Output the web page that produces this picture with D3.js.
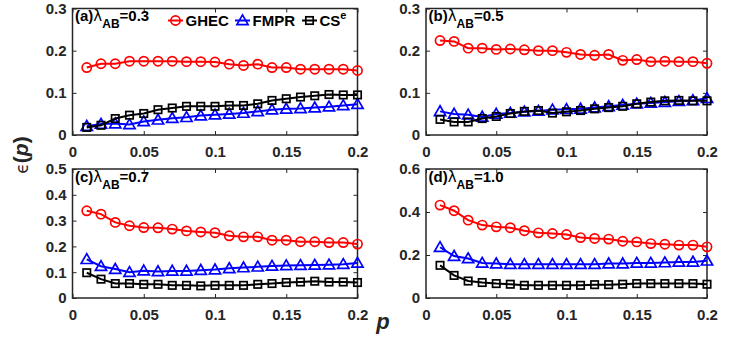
<!DOCTYPE html>
<html><head><meta charset="utf-8">
<script src="https://cdn.jsdelivr.net/npm/d3@7"></script>
<style>body{margin:0;background:#fff}svg{display:block}</style>
</head><body>
<svg id="c" width="736" height="338"></svg>
<script>
const pVals = [0.01,0.02,0.03,0.04,0.05,0.06,0.07,0.08,0.09,0.10,0.11,0.12,0.13,0.14,0.15,0.16,0.17,0.18,0.19,0.20];
const seriesNames = ["GHEC","FMPR","CS"];
const panelLabels = ["(a)","(b)","(c)","(d)"];
const lambdaVals = ["0.3","0.5","0.7","1.0"];
const yMax = [0.3,0.3,0.5,0.6];
const yTicks = [[0,0.1,0.2,0.3],[0,0.1,0.2,0.3],[0,0.1,0.2,0.3,0.4,0.5],[0,0.2,0.4,0.6]];
const xTicks = [0,0.05,0.1,0.15,0.2];

const ghecA = [0.160,0.169,0.169,0.175,0.175,0.175,0.175,0.174,0.174,0.173,0.168,0.165,0.168,0.160,0.160,0.156,0.156,0.156,0.156,0.153];
const fmprA = [0.021,0.026,0.027,0.025,0.032,0.036,0.040,0.042,0.046,0.048,0.050,0.052,0.056,0.060,0.062,0.063,0.065,0.067,0.070,0.073];
const cseA  = [0.018,0.023,0.039,0.047,0.051,0.060,0.064,0.068,0.068,0.068,0.070,0.070,0.074,0.082,0.086,0.090,0.093,0.096,0.095,0.095];

const ghecB = [0.224,0.222,0.206,0.206,0.203,0.204,0.202,0.200,0.200,0.196,0.191,0.189,0.191,0.177,0.179,0.174,0.175,0.174,0.174,0.170];
const fmprB = [0.056,0.050,0.048,0.043,0.050,0.052,0.055,0.057,0.060,0.061,0.062,0.065,0.068,0.071,0.074,0.076,0.078,0.080,0.082,0.087];
const cseB  = [0.037,0.031,0.031,0.039,0.044,0.051,0.056,0.058,0.052,0.055,0.058,0.062,0.065,0.068,0.074,0.078,0.081,0.082,0.081,0.081];

const ghecC = [0.338,0.325,0.293,0.280,0.273,0.272,0.267,0.260,0.256,0.253,0.241,0.237,0.237,0.224,0.224,0.218,0.218,0.215,0.215,0.209];
const fmprC = [0.150,0.123,0.112,0.100,0.106,0.103,0.105,0.105,0.108,0.110,0.115,0.118,0.121,0.124,0.126,0.127,0.128,0.129,0.131,0.136];
const cseC  = [0.098,0.073,0.056,0.056,0.053,0.053,0.049,0.049,0.047,0.049,0.049,0.049,0.053,0.056,0.060,0.062,0.065,0.062,0.062,0.060];

const ghecD = [0.432,0.406,0.362,0.339,0.331,0.327,0.313,0.303,0.300,0.295,0.281,0.277,0.274,0.264,0.261,0.253,0.250,0.246,0.246,0.238];
const fmprD = [0.236,0.195,0.184,0.163,0.160,0.157,0.157,0.157,0.157,0.157,0.157,0.157,0.160,0.160,0.163,0.163,0.165,0.168,0.168,0.173];
const cseD  = [0.152,0.105,0.079,0.072,0.067,0.064,0.059,0.059,0.059,0.059,0.059,0.062,0.062,0.064,0.067,0.067,0.067,0.067,0.067,0.064];

const panelData = [[ghecA,fmprA,cseA],[ghecB,fmprB,cseB],[ghecC,fmprC,cseC],[ghecD,fmprD,cseD]];
const colors = ["#ff0000","#0000ff","#000000"];
const shapes = ["circle","triangle","square"];

const boxes = [
  {l:72.5,r:357.5,t:8.5,b:135},
  {l:426,r:707,t:8.5,b:135},
  {l:72.5,r:357.5,t:169,b:298},
  {l:426,r:707,t:169,b:298}
];

const svg = d3.select("#c");
const font = "'Liberation Sans', Arial, sans-serif";
const axisCol = "#262626";

function marker(g, shape, x, y, col){
  if(shape==="circle"){
    g.append("circle").attr("cx",x).attr("cy",y).attr("r",4.6)
     .attr("fill","none").attr("stroke",col).attr("stroke-width",1.7);
  } else if(shape==="triangle"){
    const s=5.6;
    g.append("path").attr("d",`M${x},${y-s}L${x+s},${y+s*0.75}L${x-s},${y+s*0.75}Z`)
     .attr("fill","none").attr("stroke",col).attr("stroke-width",1.7);
  } else {
    const s=3.7;
    g.append("rect").attr("x",x-s).attr("y",y-s).attr("width",2*s).attr("height",2*s)
     .attr("fill","none").attr("stroke",col).attr("stroke-width",1.7);
  }
}

boxes.forEach((bx,i)=>{
  const x = d3.scaleLinear().domain([0,0.2]).range([bx.l,bx.r]);
  const y = d3.scaleLinear().domain([0,yMax[i]]).range([bx.b,bx.t]);
  const g = svg.append("g");

  const ax = g.append("g").attr("transform",`translate(0,${bx.b})`)
    .call(d3.axisBottom(x).tickValues(xTicks).tickSize(-4).tickPadding(11).tickFormat(d=>d3.format("~g")(d)));
  const ay = g.append("g").attr("transform",`translate(${bx.l},0)`)
    .call(d3.axisLeft(y).tickValues(yTicks[i]).tickSize(-4).tickPadding(6).tickFormat(d=>d3.format("~g")(d)));
  const axT = g.append("g").attr("transform",`translate(0,${bx.t})`)
    .call(d3.axisTop(x).tickValues(xTicks).tickSize(-4).tickFormat(""));
  const ayR = g.append("g").attr("transform",`translate(${bx.r},0)`)
    .call(d3.axisRight(y).tickValues(yTicks[i]).tickSize(-4).tickFormat(""));
  [ax,ay,axT,ayR].forEach(a=>{
    a.selectAll(".domain").remove();
    a.selectAll("line").attr("stroke",axisCol).attr("stroke-width",1);
    a.selectAll("text").attr("fill",axisCol).style("font-family",font)
      .style("font-size","15px").style("font-weight","bold");
  });
  g.append("rect").attr("x",bx.l).attr("y",bx.t).attr("width",bx.r-bx.l).attr("height",bx.b-bx.t)
    .attr("fill","none").attr("stroke",axisCol).attr("stroke-width",1.5);

  panelData[i].forEach((vals,k)=>{
    const line = d3.line().x((d,j)=>x(pVals[j])).y(d=>y(d));
    g.append("path").datum(vals).attr("d",line).attr("fill","none")
      .attr("stroke",colors[k]).attr("stroke-width",2);
    const mg = g.append("g");
    vals.forEach((v,j)=>marker(mg,shapes[k],x(pVals[j]),y(v),colors[k]));
  });

  const t = g.append("text").attr("x",bx.l+2.5).attr("y",bx.t+12.5)
    .style("font-family",font).style("font-size","15px").attr("fill","#000");
  t.append("tspan").text(panelLabels[i]).style("font-weight","bold");
  t.append("tspan").text("λ").style("font-family","'DejaVu Sans', sans-serif").style("font-size","15px");
  t.append("tspan").text("AB").attr("dy",7).style("font-weight","bold").style("font-size","12px");
  t.append("tspan").text("="+lambdaVals[i]).attr("dy",-7).style("font-weight","bold");

  if(i===0){
    const lx = [168,235,302];
    const ly = 20.5;
    seriesNames.forEach((nm,k)=>{
      g.append("line").attr("x1",lx[k]).attr("x2",lx[k]+15).attr("y1",ly).attr("y2",ly)
        .attr("stroke",colors[k]).attr("stroke-width",2);
      marker(g,shapes[k],lx[k]+7.5,ly,colors[k]);
      const tt = g.append("text").attr("x",lx[k]+17.5).attr("y",ly+5.5)
        .style("font-family",font).style("font-size","15px").style("font-weight","bold").attr("fill","#000");
      tt.append("tspan").text(nm);
      if(k===2) tt.append("tspan").text("e").attr("dy",-7).style("font-size","11px");
    });
  }
});

const yl = svg.append("text").attr("transform","translate(28,155) rotate(-90)")
  .attr("text-anchor","middle").style("font-family",font).style("font-size","21px").attr("fill","#262626");
yl.append("tspan").text("ϵ").style("font-family","'DejaVu Sans', sans-serif").style("font-size","17px");
yl.append("tspan").text("(").style("font-weight","bold");
yl.append("tspan").text("p").style("font-weight","bold").style("font-style","italic");
yl.append("tspan").text(")").style("font-weight","bold");

svg.append("text").attr("x",383).attr("y",329).attr("text-anchor","middle")
  .style("font-family",font).style("font-size","22px").style("font-weight","bold").style("font-style","italic")
  .attr("fill","#262626").text("p");
</script>
</body></html>
